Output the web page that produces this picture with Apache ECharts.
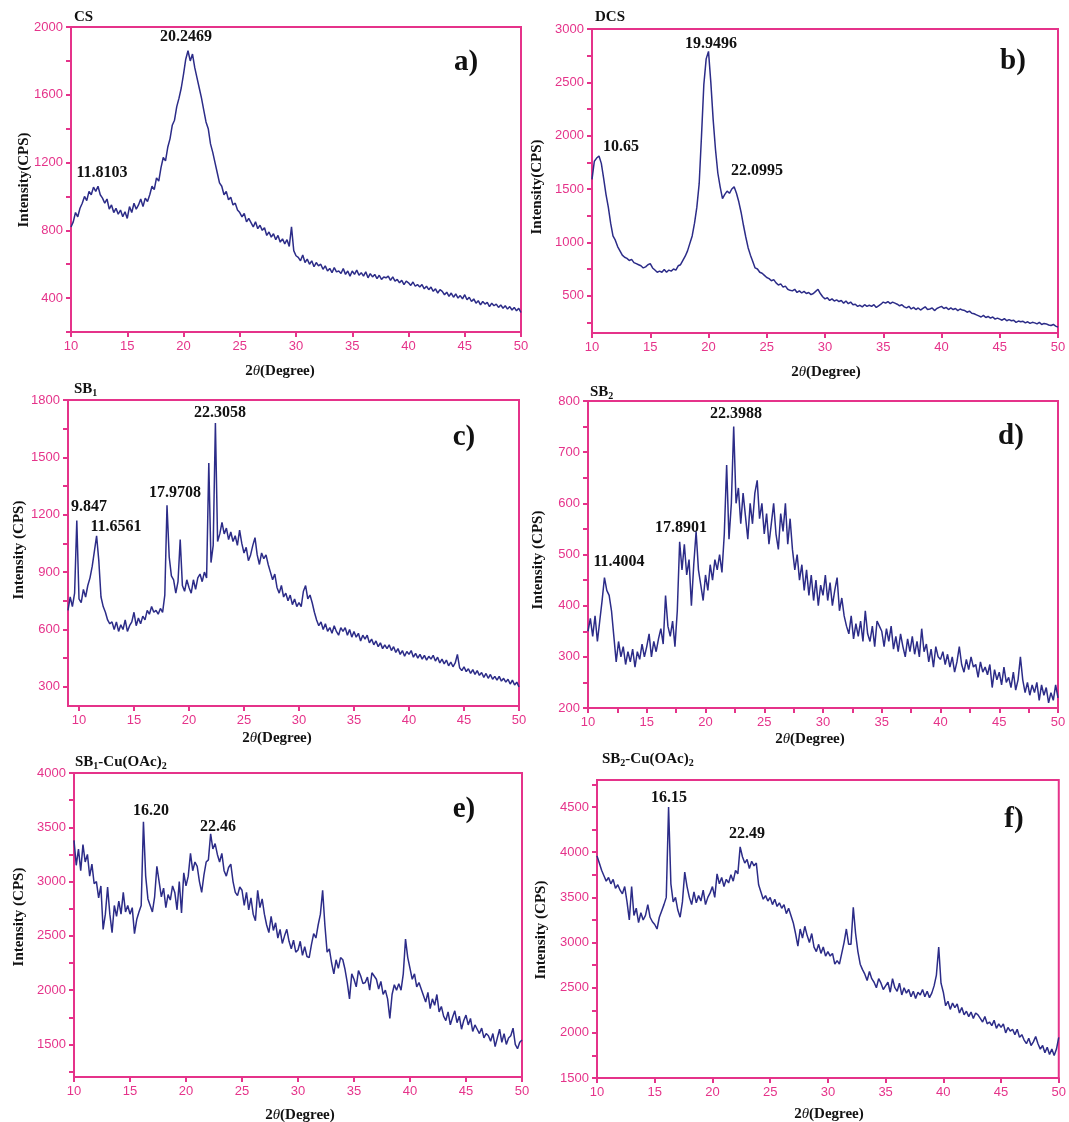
<!DOCTYPE html>
<html><head><meta charset="utf-8">
<script src="https://cdn.jsdelivr.net/npm/echarts@6/dist/echarts.min.js"></script>
<style>html,body{margin:0;padding:0;background:#fff}#c{width:1069px;height:1122px}</style>
</head><body><div id="c"></div>
<script>
// ---- sampling grid (2θ step, degrees) ----
const STEP = 0.2;
const xLabels = [10, 15, 20, 25, 30, 35, 40, 45, 50];
const xTicksD = [10, 12.5, 15, 17.5, 20, 22.5, 25, 27.5, 30, 32.5, 35, 37.5, 40, 42.5, 45, 47.5, 50];

// ---- a) CS : 10..50 ----
const csStart = 10;
const csY = [
820,850,905,880,930, 960,1000,975,1030,1010, 1055,1030,1060,1010,990, 960,985,925,950,905,
930,895,920,880,910, 870,940,905,960,925, 950,985,940,990,970, 1010,1060,1040,1110,1090,
1170,1230,1210,1290,1340, 1420,1450,1530,1580,1640, 1720,1810,1860,1800,1840, 1760,1700,1640,1580,1510,
1440,1400,1310,1260,1200, 1140,1080,1060,1010,1030, 980,995,950,960,920, 905,880,900,850,870,
845,820,850,810,830, 800,815,770,790,760, 780,745,770,730,750, 720,745,705,820,680,
650,640,620,655,610, 630,600,620,585,610, 590,600,570,590,560, 575,550,580,555,560,
545,575,540,560,530, 560,540,565,535,550, 530,555,520,545,525, 540,515,535,510,525,
520,530,505,525,500, 510,490,505,480,500, 490,475,495,470,480, 465,480,455,470,450,
465,440,455,430,450, 440,420,435,410,430, 405,425,400,415,395, 420,390,405,380,395,
370,385,360,380,365, 375,350,370,355,365, 345,360,340,355,335, 350,330,345,325,340, 315];
const csYLabels = [400, 800, 1200, 1600, 2000];
const csYTicks = [200, 400, 600, 800, 1000, 1200, 1400, 1600, 1800, 2000];

// ---- b) DCS : 10..50 ----
const dcsStart = 10;
const dcsY = [
1590,1760,1790,1810,1740, 1600,1450,1330,1180,1060, 1020,960,920,880,860, 850,830,840,810,800,
790,780,760,770,790, 800,760,740,720,730, 720,745,720,740,730, 750,740,780,790,830,
870,920,990,1060,1180, 1330,1550,2000,2480,2720, 2790,2500,2150,1870,1650, 1520,1410,1450,1480,1460,
1500,1520,1460,1380,1280, 1160,1050,950,880,820, 760,750,720,710,690, 670,660,640,650,620,
600,610,580,590,560, 550,545,560,530,545, 525,540,520,530,510, 520,540,560,520,490,
470,480,455,470,450, 460,445,455,430,450, 425,440,415,420,400, 410,395,415,400,410,
400,415,390,405,420, 440,430,445,425,440, 430,420,405,415,395, 385,400,375,390,370,
385,365,380,395,370, 375,385,360,380,390, 400,380,390,370,385, 370,380,360,375,365,
360,345,355,335,330, 320,310,300,315,295, 305,290,300,280,290, 280,270,285,265,275,
265,270,250,262,255, 260,245,255,240,250, 245,235,250,230,240, 235,225,220,230,215, 205];
const dcsYLabels = [500, 1000, 1500, 2000, 2500, 3000];
const dcsYTicks = [250, 500, 750, 1000, 1250, 1500, 1750, 2000, 2250, 2500, 2750, 3000];

// ---- c) SB1 : 9..50 ----
const sb1Start = 9;
const sb1Y = [
700,770,720,790,1170,
760,740,810,770,830, 870,930,1010,1090,960, 770,720,690,650,630, 640,600,640,590,625,
600,650,590,620,640, 690,620,660,630,670, 650,700,680,720,690, 700,680,710,690,780,
1250,980,880,860,790, 850,1070,830,800,860, 820,790,860,810,870, 890,850,900,870,1470,
950,1040,1680,1060,1100, 1160,1100,1130,1070,1110, 1060,1090,1040,1120,1050, 1000,1030,960,990,1040,
1080,990,940,1000,970, 990,940,900,860,890, 820,790,830,770,790, 750,780,730,760,720,
740,720,800,830,760, 780,740,690,650,620, 640,600,630,590,610, 580,620,590,570,610,
590,610,570,600,560, 590,560,580,540,570, 550,570,530,550,520, 540,510,530,500,520,
500,520,490,510,480, 500,470,490,460,485, 470,490,455,475,450, 470,445,465,440,460,
445,465,435,455,425, 445,420,440,410,430, 405,425,470,400,385, 405,380,395,370,390,
365,385,360,375,350, 370,345,365,340,355, 335,355,330,345,325, 340,315,335,310,325, 300];
const sb1YLabels = [300, 600, 900, 1200, 1500, 1800];
const sb1YTicks = [300, 450, 600, 750, 900, 1050, 1200, 1350, 1500, 1650, 1800];

// ---- d) SB2 : 10..50 ----
const sb2Start = 10;
const sb2Y = [
350,375,340,380,330, 370,410,455,430,420, 390,340,290,330,300, 320,285,310,290,315,
280,310,295,325,300, 320,345,300,330,310, 335,355,325,420,360, 340,370,320,390,525,
470,520,460,490,400, 480,545,470,440,410, 460,430,480,450,490, 470,500,465,540,675,
530,600,750,600,630, 560,620,575,530,600, 560,620,645,570,600, 540,580,520,560,600,
540,510,580,545,600, 520,570,510,470,500, 450,480,430,470,420, 460,410,450,400,440,
420,460,410,445,400, 430,455,390,415,380, 360,345,380,335,365, 340,370,330,390,345,
330,360,320,370,360, 350,320,355,330,360, 315,340,310,345,320, 300,335,310,340,305,
330,300,355,310,325, 290,315,280,320,300, 295,310,285,305,280, 300,270,290,320,285,
270,295,275,300,280, 285,260,290,270,280, 265,285,240,275,255, 270,245,280,250,260,
240,270,235,255,300, 255,230,250,225,245, 230,250,215,245,225, 240,210,230,215,245, 220];
const sb2YLabels = [200, 300, 400, 500, 600, 700, 800];
const sb2YTicks = [200, 250, 300, 350, 400, 450, 500, 550, 600, 650, 700, 750, 800];

// ---- e) SB1-Cu(OAc)2 : 10..50 ----
const sb1cuStart = 10;
const sb1cuY = [
3380,3150,3300,3100,3340, 3180,3250,3050,3160,2980, 3000,2850,2960,2560,2700, 2950,2700,2530,2780,2680,
2820,2700,2900,2720,2780, 2700,2760,2520,2650,2720, 2780,3550,3050,2840,2780, 2720,2860,3140,3000,2860,
2940,2760,2880,2830,2960, 2900,2740,3000,2710,3080, 2960,3050,3260,3100,3180, 3140,3000,2900,3060,3180,
3200,3440,3300,3350,3250, 3180,3260,3100,3050,3130, 3160,3000,2900,2870,2950, 2920,2780,2900,2740,2850,
2700,2640,2920,2760,2840, 2700,2600,2530,2680,2550, 2620,2480,2560,2430,2500, 2560,2450,2380,2460,2350,
2370,2450,2320,2400,2310, 2300,2420,2520,2480,2600, 2700,2920,2600,2350,2380, 2250,2150,2280,2200,2300,
2280,2190,2070,1920,2150, 2100,2030,2180,2130,2060, 2070,2120,2000,2160,2130, 2100,2010,2080,1960,2000,
1920,1740,1960,2050,2000, 2060,2000,2150,2470,2300, 2200,2100,2150,2030,2070, 2010,1950,1890,1980,1830,
1920,1860,1960,1800,1850, 1760,1720,1800,1680,1750, 1810,1700,1760,1640,1720, 1770,1680,1740,1620,1680,
1640,1600,1650,1560,1600, 1580,1530,1600,1480,1560, 1640,1520,1600,1500,1560, 1580,1650,1500,1460,1520, 1540];
const sb1cuYLabels = [1500, 2000, 2500, 3000, 3500, 4000];
const sb1cuYTicks = [1250, 1500, 1750, 2000, 2250, 2500, 2750, 3000, 3250, 3500, 3750, 4000];

// ---- f) SB2-Cu(OAc)2 : 10..50 ----
const sb2cuStart = 10;
const sb2cuY = [
3960,3880,3800,3740,3680, 3720,3650,3700,3600,3640, 3580,3540,3620,3450,3250, 3620,3300,3380,3220,3330,
3250,3300,3420,3280,3230, 3200,3150,3280,3350,3420, 3500,4500,3650,3450,3500, 3360,3280,3450,3780,3620,
3500,3420,3560,3440,3520, 3460,3580,3420,3500,3550, 3620,3500,3760,3650,3720, 3620,3700,3660,3750,3680,
3800,3760,4060,3950,3880, 3920,3820,3900,3850,3880, 3640,3560,3480,3520,3460, 3500,3420,3480,3400,3440,
3380,3420,3320,3380,3300, 3220,3100,2960,3150,3050, 3180,3080,3000,3100,2950, 2900,2980,2880,2950,2850,
2900,2850,2880,2760,2800, 2760,2880,3000,3150,2980, 2980,3390,3100,2900,2760, 2700,2650,2580,2680,2600,
2560,2500,2600,2550,2480, 2520,2560,2450,2600,2500, 2460,2550,2420,2500,2440, 2480,2400,2460,2380,2450,
2420,2480,2400,2460,2390, 2440,2520,2640,2950,2550, 2450,2300,2350,2260,2330, 2280,2320,2220,2280,2200,
2240,2180,2230,2160,2220, 2200,2160,2120,2180,2100, 2120,2080,2140,2050,2100, 2060,2100,2000,2060,2020,
2040,1980,2040,1950,1980, 1920,1880,1940,1860,1900, 1960,1880,1820,1860,1780, 1840,1760,1820,1750,1820, 1950];
const sb2cuYLabels = [1500, 2000, 2500, 3000, 3500, 4000, 4500];
const sb2cuYTicks = [1500, 1750, 2000, 2250, 2500, 2750, 3000, 3250, 3500, 3750, 4000, 4250, 4500, 4750];

// ---- texts ----
const sampleNames = ['CS', 'DCS', 'SB{s|1}', 'SB{s|2}', 'SB{s|1}-Cu(OAc){s|2}', 'SB{s|2}-Cu(OAc){s|2}'];
const panelLetters = ['a)', 'b)', 'c)', 'd)', 'e)', 'f)'];
const yTitles = ['Intensity(CPS)', 'Intensity(CPS)', 'Intensity (CPS)', 'Intensity (CPS)', 'Intensity (CPS)', 'Intensity (CPS)'];
const peakLabels = [
  ['20.2469', '11.8103'],
  ['19.9496', '10.65', '22.0995'],
  ['22.3058', '17.9708', '9.847', '11.6561'],
  ['22.3988', '17.8901', '11.4004'],
  ['16.20', '22.46'],
  ['16.15', '22.49']
];

// ---- layout (pixels) ----
const PINK = '#e5338a';
const NAVY = '#2c2c88';
const SERIF = '"Liberation Serif","Times New Roman",serif';
const SANS = '"Liberation Sans",Arial,sans-serif';

const panels = [
  {grid:{left:71,top:27,width:450,height:305}, xmin:10, xmax:50, ymin:200, ymax:2000, start:csStart, ys:csY, yl:csYLabels, yt:csYTicks, xt:xLabels,
   name:[74,17], letter:[466,63], ytitle:[24,180], xtitle:[280,371], peaks:[[186,37],[102,173]]},
  {grid:{left:592,top:29,width:466,height:304}, xmin:10, xmax:50, ymin:150, ymax:3000, start:dcsStart, ys:dcsY, yl:dcsYLabels, yt:dcsYTicks, xt:xLabels,
   name:[595,17], letter:[1013,62], ytitle:[537,187], xtitle:[826,372], peaks:[[711,44],[621,147],[757,171]]},
  {grid:{left:68,top:400,width:451,height:306}, xmin:9, xmax:50, ymin:200, ymax:1800, start:sb1Start, ys:sb1Y, yl:sb1YLabels, yt:sb1YTicks, xt:xLabels,
   name:[74,389], letter:[464,438], ytitle:[19,550], xtitle:[277,738], peaks:[[220,413],[175,493],[89,507],[116,527]]},
  {grid:{left:588,top:401,width:470,height:307}, xmin:10, xmax:50, ymin:200, ymax:800, start:sb2Start, ys:sb2Y, yl:sb2YLabels, yt:sb2YTicks, xt:xTicksD,
   name:[590,392], letter:[1011,437], ytitle:[538,560], xtitle:[810,739], peaks:[[736,414],[681,528],[619,562]]},
  {grid:{left:74,top:773,width:448,height:304}, xmin:10, xmax:50, ymin:1200, ymax:4000, start:sb1cuStart, ys:sb1cuY, yl:sb1cuYLabels, yt:sb1cuYTicks, xt:xLabels,
   name:[75,762], letter:[464,810], ytitle:[19,917], xtitle:[300,1115], peaks:[[151,811],[218,827]]},
  {grid:{left:597,top:780,width:463,height:298}, xmin:10, xmax:50, ymin:1500, ymax:4800, start:sb2cuStart, ys:sb2cuY, yl:sb2cuYLabels, yt:sb2cuYTicks, xt:xLabels,
   name:[602,759], letter:[1014,820], ytitle:[541,930], xtitle:[829,1114], peaks:[[669,798],[747,834]]}
];

const plain = v => String(v);
const grids = [], xAxes = [], yAxes = [], series = [], graphics = [];
panels.forEach((p, i) => {
  grids.push(Object.assign({show:true, borderColor:PINK, borderWidth:2, backgroundColor:'transparent'}, p.grid));
  xAxes.push({gridIndex:i, type:'value', min:p.xmin, max:p.xmax,
    axisLine:{show:true, onZero:false, lineStyle:{color:PINK, width:2}},
    axisTick:{show:true, length:5, lineStyle:{color:PINK, width:2}, customValues:p.xt},
    axisLabel:{color:PINK, fontFamily:SANS, fontSize:13, margin:8, customValues:xLabels, formatter:plain},
    splitLine:{show:false}});
  yAxes.push({gridIndex:i, type:'value', min:p.ymin, max:p.ymax,
    axisLine:{show:true, onZero:false, lineStyle:{color:PINK, width:2}},
    axisTick:{show:true, length:5, lineStyle:{color:PINK, width:2}, customValues:p.yt},
    axisLabel:{color:PINK, fontFamily:SANS, fontSize:13, margin:8, customValues:p.yl, formatter:plain},
    splitLine:{show:false}});
  series.push({type:'line', xAxisIndex:i, yAxisIndex:i, showSymbol:false, symbol:'none',
    data:p.ys.map((y, k) => [+(p.start + k * STEP).toFixed(1), y]),
    lineStyle:{color:NAVY, width:1.5}, clip:true, animation:false});
  const bold = {fontFamily:SERIF, fontWeight:'bold', fill:'#111'};
  graphics.push({type:'text', x:p.name[0], y:p.name[1], style:Object.assign({}, bold, {
    text:sampleNames[i], fontSize:15, verticalAlign:'middle',
    rich:{s:{fontSize:10, fontWeight:'bold', fontFamily:SERIF, fill:'#111', padding:[9,0,0,0], verticalAlign:'bottom'}}})});
  graphics.push({type:'text', x:p.letter[0], y:p.letter[1], style:Object.assign({}, bold, {
    text:panelLetters[i], fontSize:29, align:'center', verticalAlign:'middle'})});
  graphics.push({type:'text', x:p.ytitle[0], y:p.ytitle[1], rotation:Math.PI/2, style:Object.assign({}, bold, {
    text:yTitles[i], fontSize:15, align:'center', verticalAlign:'middle'})});
  graphics.push({type:'text', x:p.xtitle[0], y:p.xtitle[1], style:Object.assign({}, bold, {
    text:'2{i|θ}(Degree)', fontSize:15, align:'center', verticalAlign:'middle',
    rich:{i:{fontStyle:'italic', fontWeight:'normal', fontFamily:SERIF, fontSize:15, fill:'#111'}}})});
  peakLabels[i].forEach((t, j) => {
    graphics.push({type:'text', x:p.peaks[j][0], y:p.peaks[j][1], style:Object.assign({}, bold, {
      text:t, fontSize:16, align:'center', verticalAlign:'middle'})});
  });
});

const chart = echarts.init(document.getElementById('c'), null, {renderer:'canvas'});
chart.setOption({animation:false, backgroundColor:'#fff', grid:grids, xAxis:xAxes, yAxis:yAxes, series:series, graphic:graphics});
</script>
</body></html>
